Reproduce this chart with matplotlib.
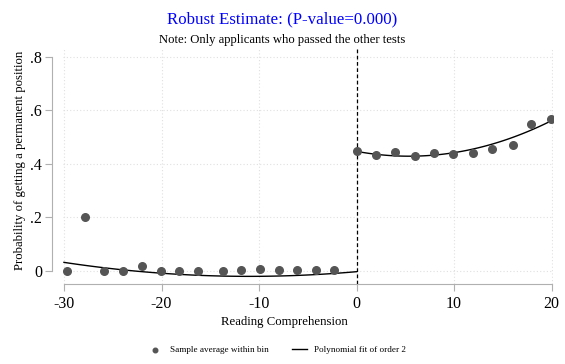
import numpy as np
import matplotlib.pyplot as plt

plt.rcParams['font.family'] = ['Liberation Serif', 'DejaVu Serif']
plt.rcParams['axes.unicode_minus'] = False

# promedios por bin
x_izq = [-29.7, -27.8, -25.9, -23.95, -22.0, -20.1, -18.2, -16.3, -13.7, -11.8, -9.9, -8.0, -6.1, -4.2, -2.3]
y_izq = [0.0, 0.200, 0.0, 0.0, 0.019, 0.0, 0.0, 0.0, 0.0, 0.002, 0.005, 0.004, 0.003, 0.002, 0.003]
x_der = [0.05, 1.98, 3.93, 5.98, 7.92, 9.9, 11.95, 13.9, 16.0, 17.9, 19.9]
y_der = [0.447, 0.432, 0.444, 0.430, 0.440, 0.435, 0.439, 0.455, 0.470, 0.548, 0.567]

# lecturas del ajuste polinomial
xf_izq = [-30, -20, -12, 0]
yf_izq = [0.031, -0.010, -0.021, -0.004]
xf_der = [0, 5, 10, 16, 20]
yf_der = [0.445, 0.430, 0.442, 0.495, 0.563]

fig = plt.figure(figsize=(5.65, 3.64), dpi=100)
ax = fig.add_axes([0.1115, 0.2198, 0.8675, 0.6456])

gris = '#b0b0b0'
for xv in [-30, -20, -10, 0, 10, 20]:
    ax.axvline(xv, color='#e0e0e0', lw=0.8, ls=(0, (1, 2)), zorder=0)
for yv in [0, 0.2, 0.4, 0.6, 0.8]:
    ax.axhline(yv, color='#e0e0e0', lw=0.8, ls=(0, (1, 2)), zorder=0)

ax.scatter(x_izq, y_izq, s=30, color='#555555', zorder=3, label='Sample average within bin')
ax.scatter(x_der, y_der, s=30, color='#555555', zorder=3)

xx = np.linspace(-30, 0, 100)
ax.plot(xx, np.polyval(np.polyfit(xf_izq, yf_izq, 2), xx), color='black', lw=1, label='Polynomial fit of order 2')
xx = np.linspace(0, 20, 100)
ax.plot(xx, np.polyval(np.polyfit(xf_der, yf_der, 2), xx), color='black', lw=1)

ax.axvline(0, color='black', lw=0.9, ls=(0, (3, 2)), zorder=2)

ax.set_xlim(-30.1, 20.15)
ax.set_ylim(-0.05, 0.829)
ax.set_xticks([-30, -20, -10, 0, 10, 20])
ax.set_yticks([0, 0.2, 0.4, 0.6, 0.8])
ax.set_yticklabels(['0', '.2', '.4', '.6', '.8'])

for s in ['top', 'right']:
    ax.spines[s].set_visible(False)
ax.spines['left'].set_position(('outward', 8))
ax.spines['left'].set_bounds(0, 0.8)
ax.spines['bottom'].set_bounds(-30, 20)
ax.spines['left'].set_color(gris)
ax.spines['bottom'].set_color(gris)
ax.tick_params(colors=gris, labelcolor='black', labelsize=11.5, length=5)
ax.tick_params(axis='y', pad=2)

fig.text(0.503, 0.115, 'Reading Comprehension', fontsize=9.2, ha='center', va='center')
ax.set_ylabel('Probability of getting a permanent position', fontsize=9.2)
ax.yaxis.set_label_coords(-0.075, 0.525)

fig.text(0.5, 0.948, 'Robust Estimate: (P-value=0.000)', color='blue', fontsize=12.2, ha='center', va='center')
fig.text(0.5, 0.889, 'Note: Only applicants who passed the other tests', fontsize=9.1, ha='center', va='center')

fig.legend(loc='center', bbox_to_anchor=(0.49, 0.038), ncol=2, frameon=False, fontsize=6.6,
           handlelength=1.6, columnspacing=2.6, handletextpad=0.8, markerscale=0.6)

plt.savefig('out.png')
